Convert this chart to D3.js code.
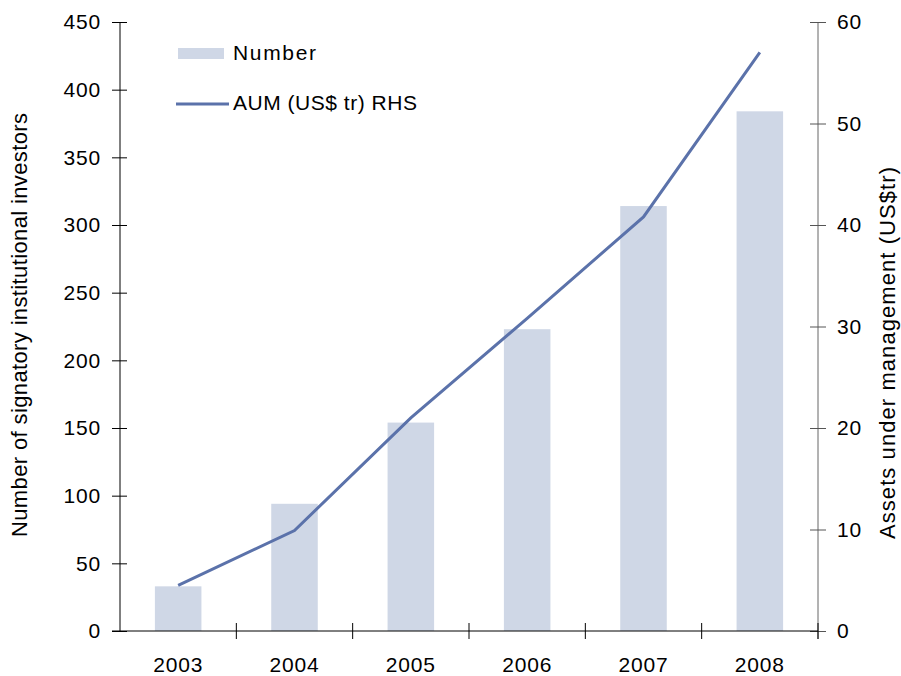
<!DOCTYPE html>
<html>
<head>
<meta charset="utf-8">
<script src="https://cdn.jsdelivr.net/npm/d3@7"></script>
<style>
  html, body { margin: 0; padding: 0; background: #fff; }
  svg { display: block; font-family: "Liberation Sans", Arial, sans-serif; }
</style>
</head>
<body>
<svg id="chart" width="901" height="676"></svg>
<script>
const years = ["2003", "2004", "2005", "2006", "2007", "2008"];
const signatories = [33, 94, 154, 223, 314, 384];
const aum = [4.5, 9.9, 21.0, 30.8, 40.8, 57.0];
const leftTicks = [0, 50, 100, 150, 200, 250, 300, 350, 400, 450];
const rightTicks = [0, 10, 20, 30, 40, 50, 60];

const svg = d3.select("#chart");
const L = 120, R = 818, T = 22, B = 631;
const barColor = "#cfd7e6";
const lineColor = "#5b72aa";
const font = "Liberation Sans, Arial, sans-serif";

const x = d3.scaleBand().domain(years).range([L, R]).padding(0);
const yL = d3.scaleLinear().domain([0, 450]).range([B, T]);
const yR = d3.scaleLinear().domain([0, 60]).range([B, T]);

// bars
const bw = x.bandwidth() * 0.4;
svg.append("g").selectAll("rect").data(years).join("rect")
  .attr("x", (d) => x(d) + x.bandwidth() / 2 - bw / 2)
  .attr("y", (d, i) => yL(signatories[i]))
  .attr("width", bw)
  .attr("height", (d, i) => B - yL(signatories[i]))
  .attr("fill", barColor);

// left axis
const gl = svg.append("g").attr("transform", `translate(${L},0)`)
  .call(d3.axisLeft(yL).tickValues(leftTicks).tickSize(8).tickPadding(12));
gl.select(".domain").attr("stroke", "#000").attr("d", `M0,${T}V${B}`);
gl.selectAll(".tick line").attr("x1", 7).attr("x2", -8).attr("stroke", "#000");
gl.selectAll(".tick text").attr("font-size", 21).attr("fill", "#000")
  .attr("font-family", font).attr("letter-spacing", 0.8).attr("dx", 1);

// right axis
const gr = svg.append("g").attr("transform", `translate(${R},0)`)
  .call(d3.axisRight(yR).tickValues(rightTicks).tickSize(8).tickPadding(12));
gr.select(".domain").attr("stroke", "#666").attr("d", `M0,${T}V${B + 8}`);
gr.selectAll(".tick line").attr("x1", -8).attr("x2", 8).attr("stroke", "#555");
gr.selectAll(".tick text").attr("font-size", 21).attr("fill", "#000")
  .attr("font-family", font).attr("letter-spacing", 0.8).attr("dx", -1);

// bottom axis
const gb = svg.append("g").attr("transform", `translate(0,${B})`);
gb.append("line").attr("x1", L - 8).attr("x2", R).attr("y1", 0).attr("y2", 0)
  .attr("stroke", "#000");
const bounds = years.map((d) => x(d)).slice(1).concat([R]);
gb.selectAll("line.tk").data(bounds).join("line").attr("class", "tk")
  .attr("x1", (d) => d).attr("x2", (d) => d).attr("y1", -8).attr("y2", 8)
  .attr("stroke", "#000");
gb.selectAll("text").data(years).join("text")
  .attr("x", (d) => x(d) + x.bandwidth() / 2)
  .attr("y", 41)
  .attr("text-anchor", "middle")
  .attr("font-size", 21)
  .attr("letter-spacing", 0.8)
  .attr("fill", "#000")
  .text((d) => d);

// line
const line = d3.line()
  .x((d, i) => x(years[i]) + x.bandwidth() / 2)
  .y((d) => yR(d));
svg.append("path").datum(aum)
  .attr("d", line)
  .attr("fill", "none")
  .attr("stroke", lineColor)
  .attr("stroke-width", 3);

// axis titles
svg.append("text")
  .attr("transform", `translate(27,325) rotate(-90)`)
  .attr("text-anchor", "middle")
  .attr("font-size", 22)
  .attr("textLength", 424)
  .attr("lengthAdjust", "spacing")
  .attr("fill", "#000")
  .text("Number of signatory institutional investors");
svg.append("text")
  .attr("transform", `translate(895,353) rotate(-90)`)
  .attr("text-anchor", "middle")
  .attr("font-size", 22)
  .attr("textLength", 372)
  .attr("lengthAdjust", "spacing")
  .attr("fill", "#000")
  .text("Assets under management (US$tr)");

// legend
const lg = svg.append("g");
lg.append("rect").attr("x", 178).attr("y", 48).attr("width", 46).attr("height", 11)
  .attr("fill", barColor);
lg.append("text").attr("x", 233).attr("y", 60).attr("font-size", 21).attr("fill", "#000")
  .attr("textLength", 83).attr("lengthAdjust", "spacing")
  .text("Number");
lg.append("line").attr("x1", 176).attr("x2", 229).attr("y1", 104).attr("y2", 104)
  .attr("stroke", lineColor).attr("stroke-width", 3);
lg.append("text").attr("x", 233).attr("y", 110).attr("font-size", 21).attr("fill", "#000")
  .attr("textLength", 184).attr("lengthAdjust", "spacing")
  .text("AUM (US$ tr) RHS");
</script>
</body>
</html>
